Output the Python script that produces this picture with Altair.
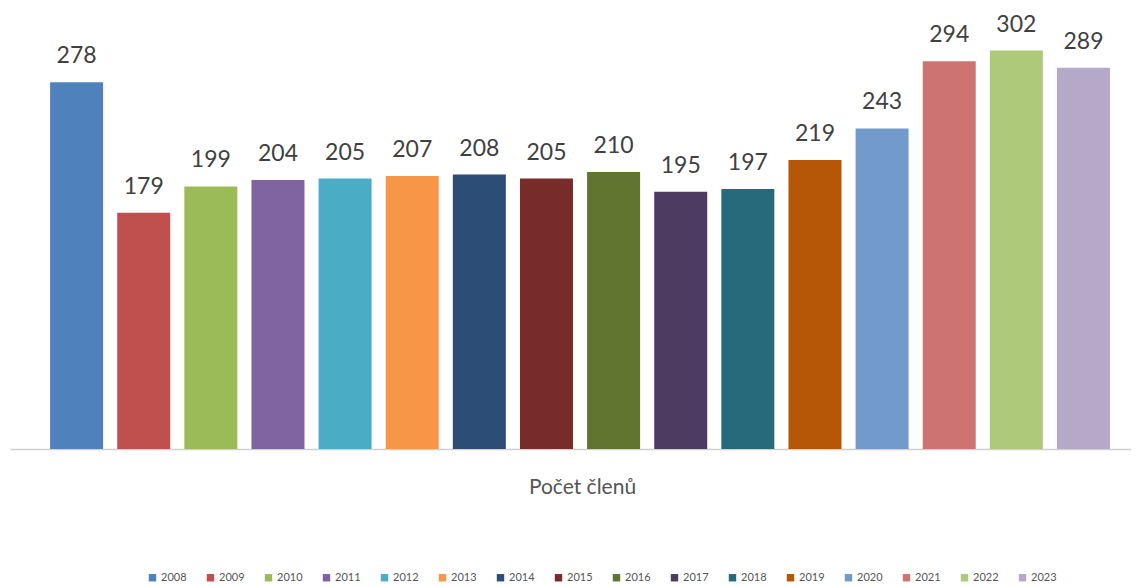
import altair as alt
import pandas as pd

years = ["2008", "2009", "2010", "2011", "2012", "2013", "2014", "2015",
         "2016", "2017", "2018", "2019", "2020", "2021", "2022", "2023"]
values = [278, 179, 199, 204, 205, 207, 208, 205, 210, 195, 197, 219, 243, 294, 302, 289]
colors = ["#4F81BD", "#C0504D", "#9BBB59", "#8064A2", "#4BACC6", "#F79646",
          "#2C4D75", "#772C2A", "#5F7530", "#4D3B62", "#276A7C", "#B65708",
          "#729ACA", "#CD7371", "#AFC97A", "#B5A8C9"]

df = pd.DataFrame({"rok": years, "pocet": values})

FONT = "Lato"

x = alt.X("rok:N", sort=years,
          scale=alt.Scale(paddingInner=0.21, paddingOuter=0.455, align=0.656),
          axis=alt.Axis(title="Počet členů", labels=False, ticks=False,
                        domainColor="#d0d0d0", domainWidth=1.5,
                        titleFontSize=21, titleFont=FONT, titleFontWeight="normal",
                        titleColor="#555555", titlePadding=27, titleX=572))
y = alt.Y("pocet:Q", scale=alt.Scale(domain=[0, 334.3], nice=False), axis=None)

bars = alt.Chart(df).mark_bar(size=53).encode(
    x=x, y=y,
    color=alt.Color("rok:N", sort=years,
                    scale=alt.Scale(domain=years, range=colors),
                    legend=alt.Legend(title=None, orient="none", legendX=137, legendY=564,
                                      direction="horizontal", columns=16,
                                      symbolType="square", symbolSize=55,
                                      symbolStrokeWidth=0, labelFontSize=11,
                                      labelFont=FONT, labelColor="#555555",
                                      columnPadding=18, labelOffset=3))
)

labels = alt.Chart(df).mark_text(baseline="alphabetic", dy=-19, fontSize=23,
                                 font=FONT, color="#404040").encode(
    x=alt.X("rok:N", sort=years), y=y, text="pocet:Q"
)

chart = (bars + labels).properties(
    width=1121, height=441,
    padding={"left": 2, "top": 0, "right": 0, "bottom": 0}
).configure_view(stroke=None)

chart.save("out.html", embed_options={"renderer": "svg", "actions": False})
